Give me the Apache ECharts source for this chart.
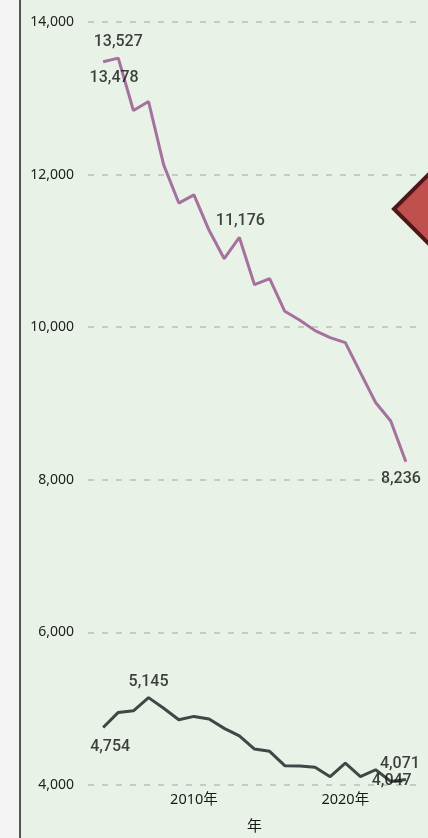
<!DOCTYPE html>
<html lang="ja">
<head>
  <meta charset="UTF-8">
  <title>年次推移</title>
  <script src="https://cdn.jsdelivr.net/npm/echarts@6.0.0/dist/echarts.min.js"></script>
  <style>
    html, body {
      margin: 0;
      padding: 0;
      width: 100%;
      height: 100%;
      background: #f4f4f4;
    }
    #main {
      width: 428px;
      height: 838px;
    }
  </style>
</head>
<body>
  <div id="main"></div>
  <script>
    const years = [2004, 2005, 2006, 2007, 2008, 2009, 2010, 2011, 2012, 2013, 2014,
                   2015, 2016, 2017, 2018, 2019, 2020, 2021, 2022, 2023, 2024];
    const upperValues = [13478, 13527, 12840, 12957, 12128, 11627, 11735, 11270, 10898, 11176, 10557,
                         10636, 10208, 10090, 9955, 9863, 9798, 9405, 9013, 8770, 8236];
    const lowerValues = [4754, 4951, 4973, 5145, 5005, 4855, 4899, 4864, 4742, 4645, 4471,
                         4441, 4253, 4250, 4232, 4109, 4288, 4109, 4200, 4047, 4071];
    const yTicks = [4000, 6000, 8000, 10000, 12000, 14000];
    const xLabelYears = [2010, 2020];

    // which points get a value label
    const upperLabelIdx = [0, 1, 9, 20];
    const lowerLabelIdx = [0, 3, 19, 20];

    // label placement (style only)
    const upperLabelPos = {
      0: { position: 'bottom', offset: [11, 3] },
      1: { position: 'top', offset: [0, -3] },
      9: { position: 'top', offset: [1, -3] },
      20: { position: 'bottom', offset: [-5, 4] }
    };
    const lowerLabelPos = {
      0: { position: 'bottom', offset: [7, 6] },
      3: { position: 'top', offset: [0, -2] },
      19: { position: 'inside', offset: [1, 0] },
      20: { position: 'top', offset: [-6, -2] }
    };

    const fmt = v => v.toLocaleString('en-US');

    function labelPoints(values, idxList, pos) {
      return idxList.map(i => ({
        value: [years[i], values[i]],
        label: pos[i]
      }));
    }

    const chart = echarts.init(document.getElementById('main'));

    const valueLabel = {
      show: true,
      fontFamily: 'Roboto',
      fontWeight: 500,
      fontSize: 16,
      color: '#111',
      formatter: p => fmt(p.value[1])
    };

    const option = {
      backgroundColor: '#e8f2e6',
      animation: false,
      graphic: [
        { type: 'rect', shape: { x: 0, y: 0, width: 19, height: 838 }, style: { fill: '#f4f4f4' }, z: 10 },
        { type: 'rect', shape: { x: 19, y: 0, width: 2, height: 838 }, style: { fill: '#555555' }, z: 10 },
        {
          type: 'polygon',
          shape: { points: [[394, 209], [453, 150], [512, 209], [453, 268]] },
          style: { fill: '#c0504d', stroke: '#4e1818', lineWidth: 4 },
          z: 10
        }
      ],
      grid: { left: 88, right: 7, top: 22, bottom: 52 },
      xAxis: {
        type: 'value',
        min: 2003,
        max: 2025,
        interval: 1,
        name: '年',
        nameLocation: 'middle',
        nameGap: 33,
        nameTextStyle: { fontFamily: 'Noto Sans CJK JP', fontSize: 15, color: '#1a1a1a' },
        axisLine: { show: false },
        axisTick: { show: false },
        splitLine: { show: false },
        axisLabel: {
          margin: 8,
          fontFamily: "'Noto Sans', 'Noto Sans CJK JP'",
          fontSize: 14.5,
          color: '#1a1a1a',
          formatter: v => (xLabelYears.includes(v) ? v + '年' : '')
        }
      },
      yAxis: {
        type: 'value',
        min: yTicks[0],
        max: yTicks[yTicks.length - 1],
        interval: 2000,
        axisLine: { show: false },
        axisTick: { show: false },
        axisLabel: {
          margin: 14,
          fontFamily: 'Noto Sans',
          fontSize: 14,
          color: '#222',
          formatter: v => fmt(v)
        },
        splitLine: {
          lineStyle: { type: [6, 8], color: '#bdbdbd', width: 1.5 }
        }
      },
      series: [
        {
          type: 'line',
          data: years.map((y, i) => [y, upperValues[i]]),
          showSymbol: false,
          lineStyle: { color: '#a5729e', width: 3 },
          z: 2
        },
        {
          type: 'line',
          data: years.map((y, i) => [y, lowerValues[i]]),
          showSymbol: false,
          lineStyle: { color: '#3f4846', width: 3 },
          z: 2
        },
        {
          type: 'scatter',
          data: labelPoints(upperValues, upperLabelIdx, upperLabelPos),
          symbolSize: 1,
          itemStyle: { color: 'rgba(0,0,0,0)' },
          label: valueLabel,
          z: 5
        },
        {
          type: 'scatter',
          data: labelPoints(lowerValues, lowerLabelIdx, lowerLabelPos),
          symbolSize: 1,
          itemStyle: { color: 'rgba(0,0,0,0)' },
          label: valueLabel,
          z: 5
        }
      ]
    };

    chart.setOption(option);
    window.addEventListener('resize', () => chart.resize());
  </script>
</body>
</html>
